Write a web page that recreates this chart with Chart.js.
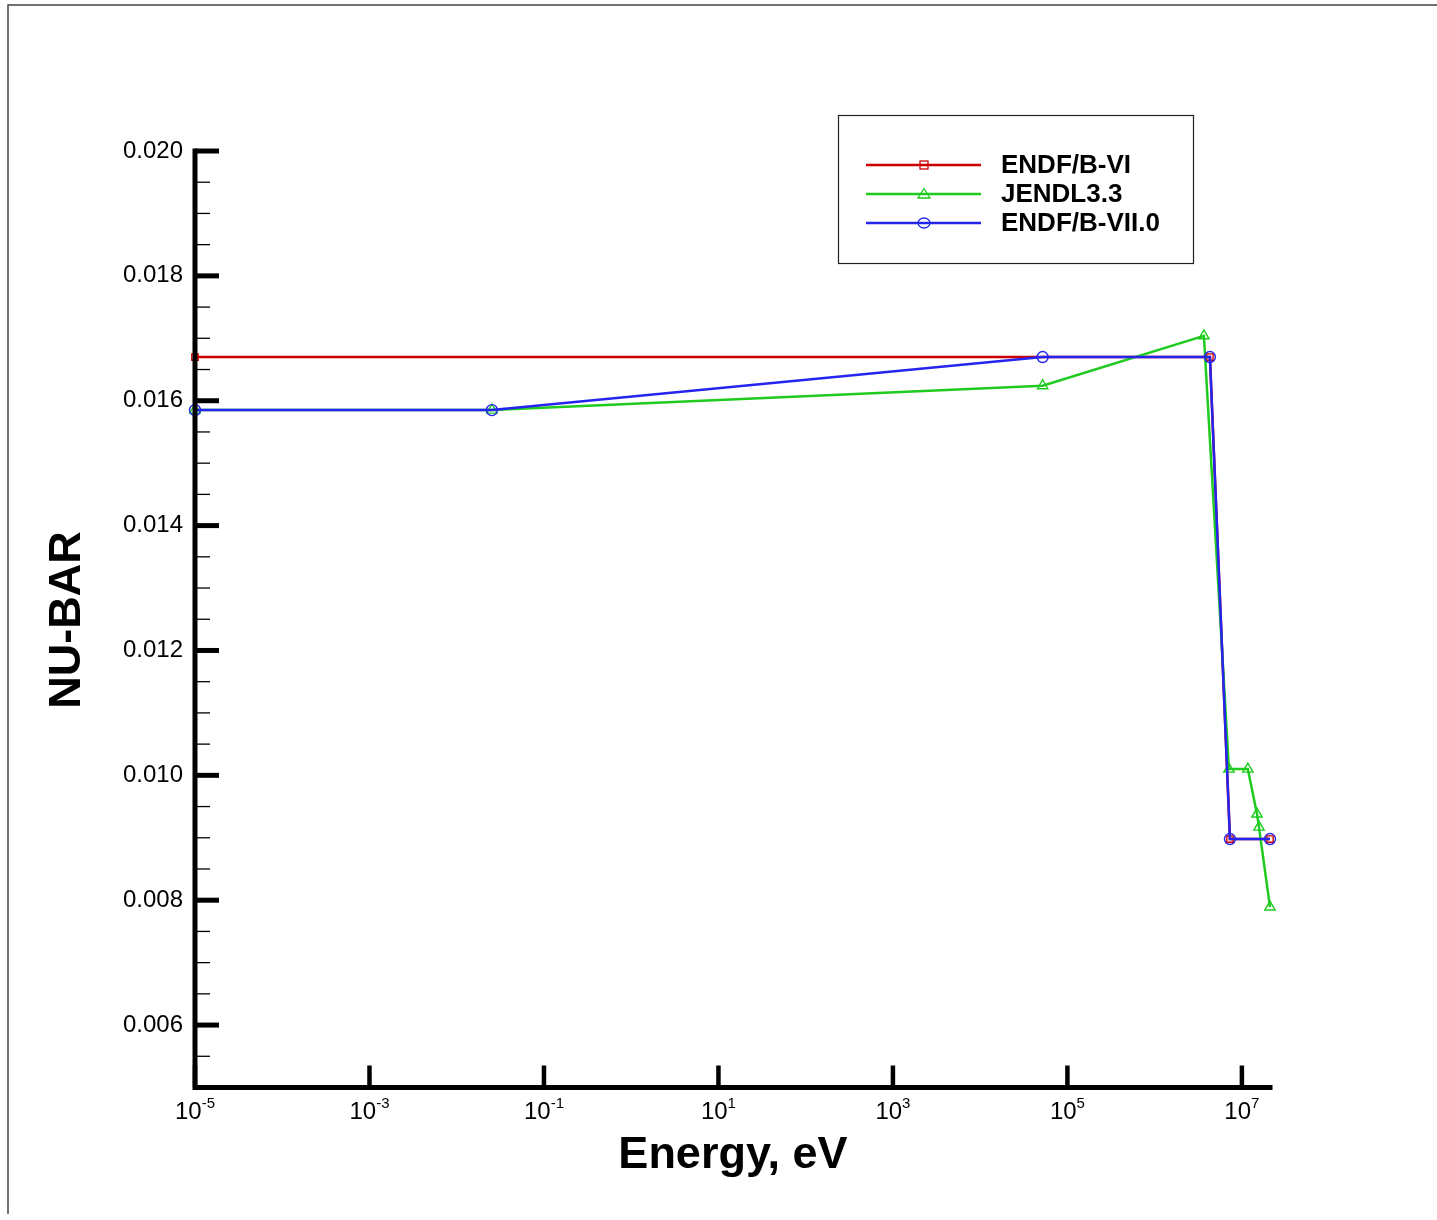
<!DOCTYPE html>
<html>
<head>
<meta charset="utf-8">
<script src="https://cdn.jsdelivr.net/npm/chart.js@4/dist/chart.umd.min.js"></script>
<style>
  html, body { margin: 0; padding: 0; background: #ffffff; }
  #wrap { width: 1437px; height: 1220px; }
</style>
</head>
<body>
<div id="wrap"><canvas id="c" width="1437" height="1220"></canvas></div>
<script>
// ---- data ----
const seriesNames = ['ENDF/B-VI', 'JENDL3.3', 'ENDF/B-VII.0'];

const endf6Energy = [1e-5, 4.3e6, 7.3e6, 2.1e7];
const endf6Nubar  = [0.0167, 0.0167, 0.00898, 0.00898];

const jendlEnergy = [1e-5, 0.0253, 5.2e4, 3.67e6, 7.1e6, 1.17e7, 1.49e7, 1.57e7, 2.1e7];
const jendlNubar  = [0.01585, 0.01585, 0.01624, 0.01704, 0.0101, 0.0101, 0.00938, 0.00917, 0.00789];

const endf7Energy = [1e-5, 0.0253, 5.2e4, 4.3e6, 7.3e6, 2.1e7];
const endf7Nubar  = [0.01585, 0.01585, 0.0167, 0.0167, 0.00898, 0.00898];

const xTickExponents = [-5, -3, -1, 1, 3, 5, 7];
const yTickLabels = ['0.006', '0.008', '0.010', '0.012', '0.014', '0.016', '0.018', '0.020'];
const yMinorStep = 0.0005;
const xRange = [1e-5, 2.1e7];
const yRange = [0.005, 0.020];
const xTitle = 'Energy, eV';
const yTitle = 'NU-BAR';

function pts(xs, ys) { return xs.map((x, i) => ({ x: x, y: ys[i] })); }

const FONT = '"Liberation Sans", Arial, sans-serif';

const decorPlugin = {
  id: 'decor',
  beforeDraw(chart) {
    const ctx = chart.ctx;
    ctx.save();
    ctx.fillStyle = '#ffffff';
    ctx.fillRect(0, 0, chart.width, chart.height);
    ctx.strokeStyle = '#444444';
    ctx.lineWidth = 1.5;
    ctx.beginPath();
    ctx.moveTo(8, 1214);
    ctx.lineTo(8, 5);
    ctx.lineTo(1437, 5);
    ctx.stroke();
    ctx.restore();
  },
  afterDraw(chart) {
    const ctx = chart.ctx;
    const xs = chart.scales.x, ys = chart.scales.y;
    const L = xs.getPixelForValue(xRange[0]);
    const R = xs.getPixelForValue(xRange[1]);
    const T = ys.getPixelForValue(yRange[1]);
    const B = ys.getPixelForValue(yRange[0]);
    ctx.save();
    ctx.strokeStyle = '#000';
    ctx.fillStyle = '#000';
    ctx.lineCap = 'butt';

    // y minor ticks
    ctx.lineWidth = 1.3;
    for (let v = yRange[0]; v <= yRange[1] + 1e-9; v += yMinorStep) {
      const p = ys.getPixelForValue(v);
      ctx.beginPath(); ctx.moveTo(L, p); ctx.lineTo(L + 15, p); ctx.stroke();
    }
    // y major ticks + labels
    ctx.font = '24px ' + FONT;
    ctx.textAlign = 'right';
    ctx.textBaseline = 'middle';
    yTickLabels.forEach(lbl => {
      const p = ys.getPixelForValue(parseFloat(lbl));
      ctx.lineWidth = 5;
      ctx.beginPath(); ctx.moveTo(L, p); ctx.lineTo(L + 24, p); ctx.stroke();
      ctx.fillText(lbl, L - 12, p);
    });
    // x major ticks + labels
    xTickExponents.forEach(e => {
      const p = xs.getPixelForValue(Math.pow(10, e));
      ctx.lineWidth = 4.5;
      ctx.beginPath(); ctx.moveTo(p, B); ctx.lineTo(p, B - 22); ctx.stroke();
      ctx.font = '24px ' + FONT;
      const base = '10';
      const exp = String(e);
      const bw = ctx.measureText(base).width;
      ctx.font = '15px ' + FONT;
      const ew = ctx.measureText(exp).width;
      const x0 = p - (bw + ew) / 2;
      ctx.textAlign = 'left';
      ctx.textBaseline = 'alphabetic';
      ctx.font = '24px ' + FONT;
      ctx.fillText(base, x0, B + 31);
      ctx.font = '15px ' + FONT;
      ctx.fillText(exp, x0 + bw, B + 20);
    });
    // axis lines
    ctx.lineWidth = 5;
    ctx.lineCap = 'square';
    ctx.beginPath();
    ctx.moveTo(L, T); ctx.lineTo(L, B); ctx.lineTo(R, B);
    ctx.stroke();

    // titles
    ctx.font = 'bold 45px ' + FONT;
    ctx.textAlign = 'center';
    ctx.textBaseline = 'alphabetic';
    ctx.fillText(xTitle, 733, 1168);
    ctx.save();
    ctx.translate(80, 620);
    ctx.rotate(-Math.PI / 2);
    ctx.fillText(yTitle, 0, 0);
    ctx.restore();

    // legend
    ctx.lineWidth = 1.2;
    ctx.strokeStyle = '#222';
    ctx.strokeRect(838.5, 115.5, 355, 148);
    const rowY = [165, 194, 223];
    chart.data.datasets.forEach((ds, i) => {
      const y = rowY[i];
      ctx.strokeStyle = ds.borderColor;
      ctx.lineWidth = 2.5;
      ctx.lineCap = 'butt';
      ctx.beginPath(); ctx.moveTo(866, y); ctx.lineTo(981, y); ctx.stroke();
      ctx.lineWidth = 1.3;
      const mx = 924;
      if (ds.pointStyle === 'rect') {
        ctx.strokeRect(mx - 4, y - 4, 8, 8);
      } else if (ds.pointStyle === 'triangle') {
        ctx.beginPath();
        ctx.moveTo(mx, y - 5.5); ctx.lineTo(mx + 6, y + 4); ctx.lineTo(mx - 6, y + 4); ctx.closePath();
        ctx.stroke();
      } else {
        ctx.beginPath(); ctx.ellipse(mx, y, 6, 5, 0, 0, Math.PI * 2); ctx.stroke();
      }
      ctx.fillStyle = '#000';
      ctx.font = 'bold 26px ' + FONT;
      ctx.textAlign = 'left';
      ctx.textBaseline = 'middle';
      ctx.fillText(ds.label, 1001, y + 1);
    });
    ctx.restore();
  }
};

const red = '#cc0000', green = '#1ecb1e', blue = '#2424ee';

new Chart(document.getElementById('c'), {
  type: 'line',
  data: {
    datasets: [
      { label: seriesNames[0], data: pts(endf6Energy, endf6Nubar), borderColor: red, pointStyle: 'rect',
        pointRadius: 4.5, pointBorderColor: red, order: 3 },
      { label: seriesNames[1], data: pts(jendlEnergy, jendlNubar), borderColor: green, pointStyle: 'triangle',
        pointRadius: 6, pointBorderColor: green, order: 2 },
      { label: seriesNames[2], data: pts(endf7Energy, endf7Nubar), borderColor: blue, pointStyle: 'circle',
        pointRadius: 5.5, pointBorderColor: blue, order: 1 }
    ]
  },
  options: {
    responsive: false,
    animation: false,
    devicePixelRatio: 1,
    layout: { padding: { left: 195, top: 151, right: 1437 - 1270, bottom: 1220 - 1087.5 } },
    elements: {
      line: { borderWidth: 2.5, tension: 0, fill: false },
      point: { backgroundColor: 'rgba(0,0,0,0)', borderWidth: 1.4, hoverRadius: 5 }
    },
    datasets: { line: { clip: false } },
    plugins: { legend: { display: false }, tooltip: { enabled: false }, title: { display: false } },
    scales: {
      x: { type: 'logarithmic', min: xRange[0], max: xRange[1], display: false },
      y: { type: 'linear', min: yRange[0], max: yRange[1], display: false }
    }
  },
  plugins: [decorPlugin]
});
</script>
</body>
</html>
